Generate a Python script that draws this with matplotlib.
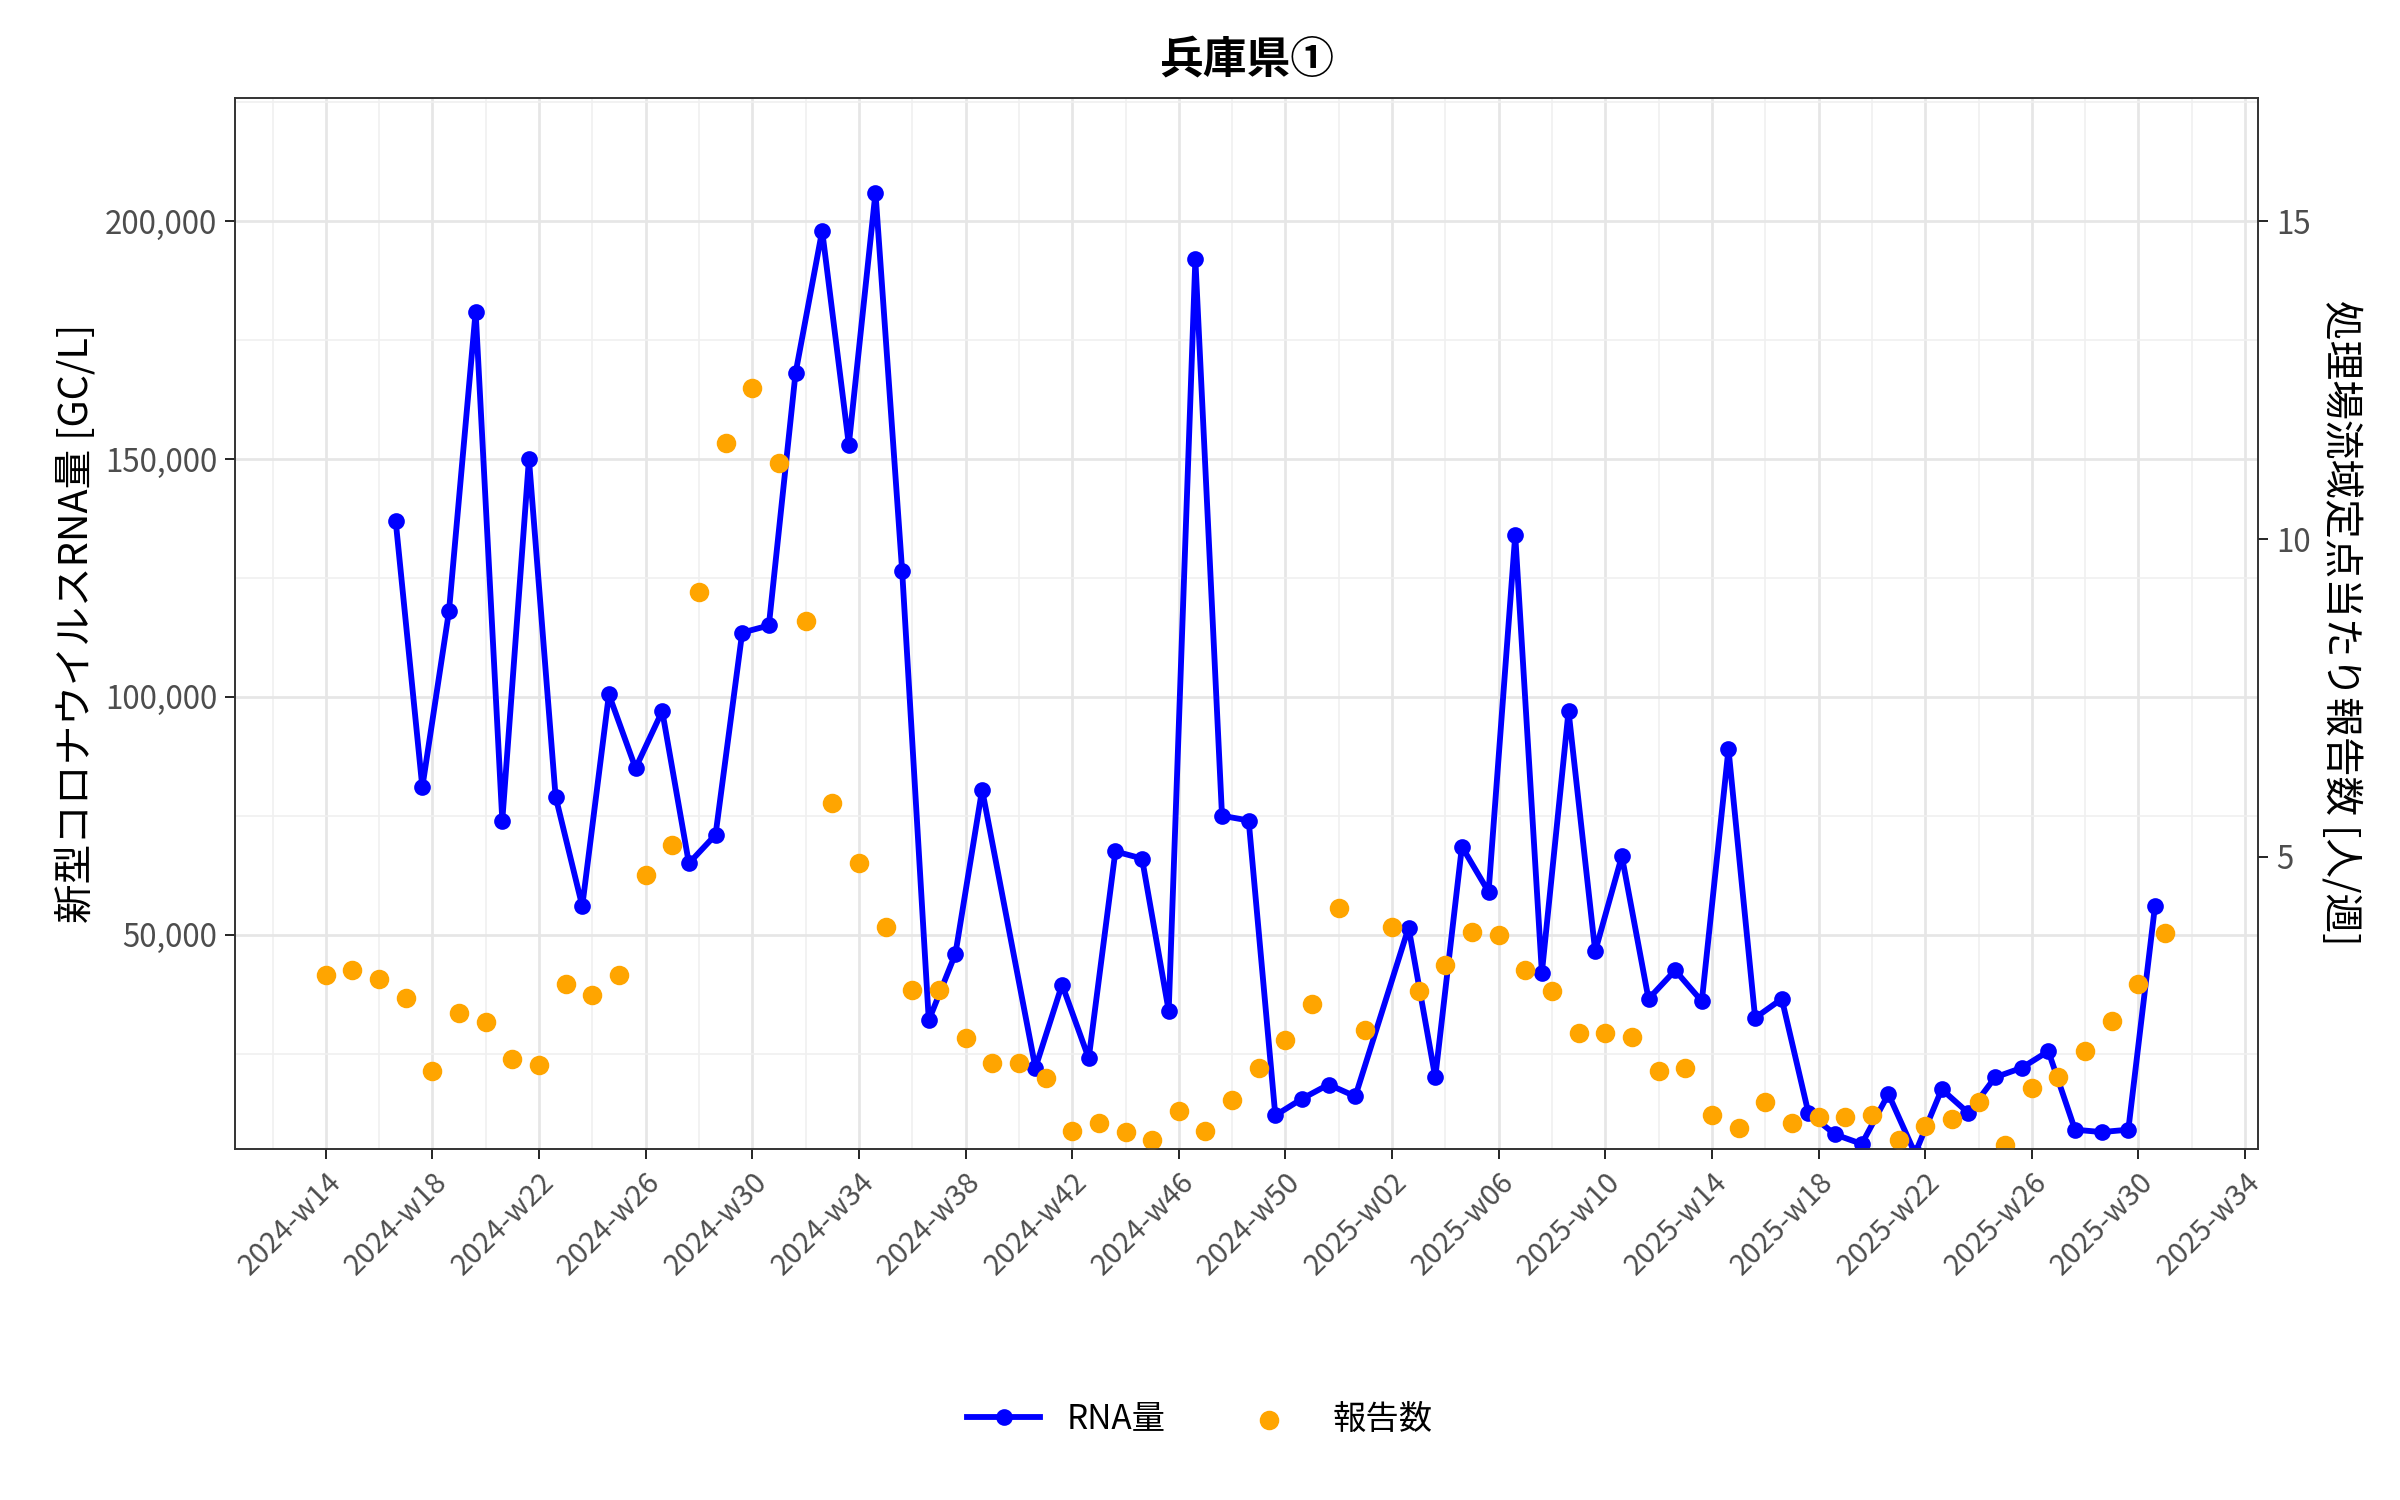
import numpy as np
import matplotlib.pyplot as plt
from matplotlib.ticker import FuncFormatter, MultipleLocator

plt.rcParams['font.family'] = ['Noto Sans CJK JP']

# week offsets from 2024-w14
rna_week = [2, 3, 4, 5, 6, 7, 8, 9, 10, 11, 12, 13, 14, 15, 16, 17, 18, 19, 20, 21, 22, 23, 24,
            26, 27, 28, 29, 30, 31, 32, 33, 34, 35, 36, 37, 38,
            40, 41, 42, 43, 44, 45, 46, 47, 48, 49, 50, 51, 52, 53, 54, 55, 56, 57, 58, 59, 60,
            61, 62, 63, 64, 65, 66, 67, 68]
rna_val = [137000, 81000, 118000, 181000, 74000, 150000, 79000, 56000, 100500, 85000, 97000, 65000,
           71000, 113500, 115000, 168000, 198000, 153000, 206000, 126500, 32000, 46000, 80500,
           22000, 39500, 24000, 67500, 66000, 34000, 192000, 75000, 74000, 12000, 15500, 18500, 16000,
           51500, 20000, 68500, 59000, 134000, 42000, 97000, 46500, 66500, 36500, 42500, 36000,
           89000, 32500, 36500, 12500, 8000, 6000, 16500, 4000, 17500,
           12500, 20000, 22000, 25500, 9000, 8500, 9000, 56000]

rep_week = list(range(70))
rep_val = [3.14, 3.22, 3.07, 2.78, 1.63, 2.54, 2.40, 1.82, 1.72, 3.0, 2.83, 3.14, 4.71, 5.19, 9.17,
           11.51, 12.37, 11.19, 8.71, 5.84, 4.90, 3.89, 2.90, 2.90, 2.15, 1.75, 1.75, 1.51, 0.69,
           0.81, 0.66, 0.54, 1.0, 0.69, 1.17, 1.67, 2.11, 2.69, 4.2, 2.28, 3.89, 2.88, 3.29, 3.82,
           3.77, 3.22, 2.88, 2.23, 2.23, 2.16, 1.63, 1.67, 0.93, 0.73, 1.14, 0.81, 0.90, 0.90, 0.93,
           0.54, 0.76, 0.88, 1.14, 0.47, 1.36, 1.53, 1.94, 2.42, 3.0, 3.80]

tick_pos = list(range(0, 73, 4))
tick_labels = ['2024-w14', '2024-w18', '2024-w22', '2024-w26', '2024-w30', '2024-w34', '2024-w38',
               '2024-w42', '2024-w46', '2024-w50', '2025-w02', '2025-w06', '2025-w10', '2025-w14',
               '2025-w18', '2025-w22', '2025-w26', '2025-w30', '2025-w34']

fig = plt.figure(figsize=(16, 10), dpi=150)
ax = fig.add_axes([0.098, 0.234, 0.843, 0.701])
ax2 = ax.twinx()

ylo, yhi = 4940, 226000
rlo, rhi = 0.4, 16.95
ax.plot(np.array(rna_week) + 0.62, rna_val, color='blue', lw=2.8, marker='o', ms=7,
        zorder=3, label='RNA量')
ax2.scatter(rep_week, rep_val, s=70, color='orange', zorder=2, label='報告数')

ax.set_xlim(-3.4, 72.5)
ax.set_ylim(ylo, yhi)
ax2.set_ylim(rlo, rhi)
ax.set_xticks(tick_pos)
ax.set_xticklabels(tick_labels, rotation=45, ha='right', rotation_mode='anchor', fontsize=14, color='#4d4d4d')
ax.xaxis.set_minor_locator(MultipleLocator(2))
ax.yaxis.set_major_locator(MultipleLocator(50000))
ax.yaxis.set_minor_locator(MultipleLocator(25000))
ax.yaxis.set_major_formatter(FuncFormatter(lambda v, p: f'{int(v):,}'))
ax2.yaxis.set_major_locator(MultipleLocator(5))
ax.tick_params(axis='y', labelsize=15, labelcolor='#4d4d4d', length=5)
ax.tick_params(axis='x', length=5)
ax.tick_params(which='minor', length=0)
ax2.tick_params(axis='y', labelsize=15, labelcolor='#4d4d4d', length=5)
ax.grid(True, which='major', color='#e6e6e6', lw=1.3)
ax.grid(True, which='minor', color='#f0f0f0', lw=0.8)
for a in (ax, ax2):
    for s in a.spines.values():
        s.set_color('#333333')

ax.set_ylabel('新型コロナウイルスRNA量 [GC/L]', fontsize=19)
ax2.set_ylabel('処理場流域定点当たり報告数 [人/週]', fontsize=19, rotation=270, labelpad=24)
ax.set_title('兵庫県①', fontsize=21, fontweight='bold', pad=12)

h1, l1 = ax.get_legend_handles_labels()
h2, l2 = ax2.get_legend_handles_labels()
fig.legend(h1 + h2, l1 + l2, loc='center', bbox_to_anchor=(0.5, 0.054), ncol=2,
           frameon=False, fontsize=16, handlelength=2.2, columnspacing=2)

fig.savefig('out.png', dpi=150)
